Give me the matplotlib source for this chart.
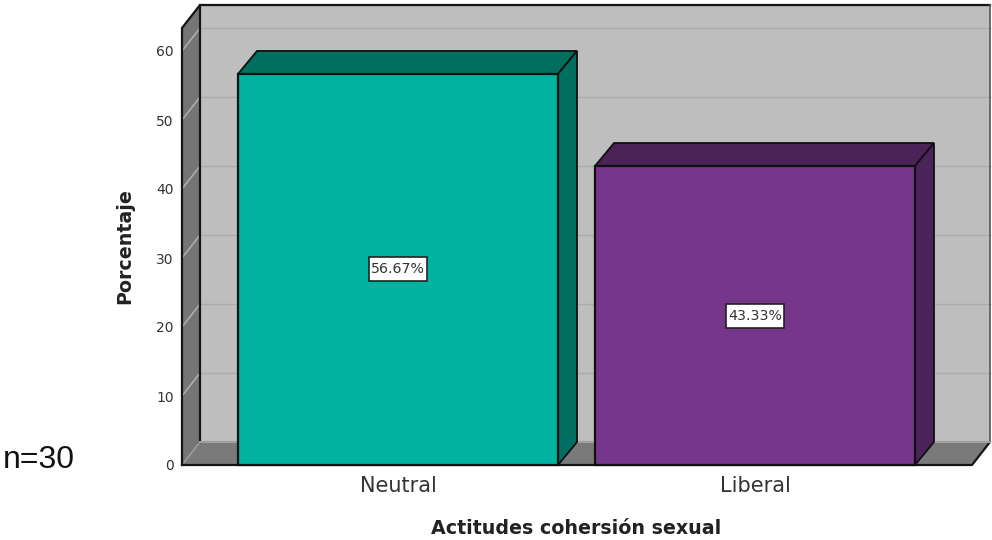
import matplotlib
matplotlib.use("Agg")
import matplotlib.pyplot as plt
from matplotlib.patches import Polygon, Rectangle

categories = ["Neutral", "Liberal"]
values = [56.67, 43.33]
labels = ["56.67%", "43.33%"]
yticks = [0, 10, 20, 30, 40, 50, 60]

face_colors = ["#00B2A0", "#76368C"]
top_colors = ["#006F60", "#4B2359"]
side_colors = ["#006F60", "#4B2359"]

W, H = 992, 540
fig = plt.figure(figsize=(W / 100, H / 100), dpi=100)
# front plane of the 3d box, in pixels
left, right, bottom, top = 182, 972, 465, 28
ax = fig.add_axes([left / W, 1 - bottom / H, (right - left) / W, (bottom - top) / H])

# scales: one category = 357 px, one percent = 6.9 px
px_x = 357.0
px_y = 6.9
center0 = 398
ax.set_xlim((left - center0) / px_x, (right - center0) / px_x)
ax.set_ylim(0, (bottom - top) / px_y)
x0, x1 = ax.get_xlim()
y0, y1 = ax.get_ylim()

# depth of the box, the bars sit slightly deeper
dx = 18 / px_x
dy = 23 / px_y
bar_dx = 19 / px_x
bar_w = 320 / px_x
box_w = 58 / px_x
box_h = 24 / px_y


def poly(pts, fc, ec="black", lw=1.5, z=1):
    ax.add_patch(Polygon(pts, closed=True, facecolor=fc, edgecolor=ec, linewidth=lw,
                         joinstyle="miter", clip_on=False, zorder=z))


# walls and floor
poly([(x0 + dx, y0 + dy), (x1 + dx, y0 + dy), (x1 + dx, y1 + dy), (x0 + dx, y1 + dy)], "#BEBEBE", ec="none", z=1)
poly([(x0, y0), (x0 + dx, y0 + dy), (x0 + dx, y1 + dy), (x0, y1)], "#757575", ec="none", z=1)
poly([(x0, y0), (x1, y0), (x1 + dx, y0 + dy), (x0 + dx, y0 + dy)], "#7A7A7A", ec="none", z=1)

# gridlines run along the back wall and down the left wall
for t in yticks[1:]:
    ax.plot([x0 + dx, x1 + dx], [t + dy, t + dy], color="#ABABAB", lw=1, zorder=2, clip_on=False)
    ax.plot([x0, x0 + dx], [t, t + dy], color="#B0B0B0", lw=1.1, zorder=2, clip_on=False)
ax.plot([x0 + dx, x1 + dx], [y1 + dy, y1 + dy], color="#A6A6A6", lw=1, zorder=2, clip_on=False)
ax.plot([x0, x0 + dx], [y0, y0 + dy], color="#A0A0A0", lw=1, zorder=2, clip_on=False)

# box outline
ax.plot([x0, x0, x0 + dx, x1 + dx], [y0, y1, y1 + dy, y1 + dy], color="#151515", lw=1.6, zorder=3, clip_on=False)
ax.plot([x0 + dx, x0 + dx], [y0 + dy, y1 + dy], color="#151515", lw=1.6, zorder=3, clip_on=False)
ax.plot([x1 + dx, x1 + dx], [y0 + dy, y1 + dy], color="#555555", lw=1.2, zorder=3, clip_on=False)
ax.plot([x0, x1, x1 + dx], [y0, y0, y0 + dy], color="#151515", lw=1.6, zorder=3, clip_on=False)
ax.plot([x0 + dx, x1 + dx], [y0 + dy, y0 + dy], color="#A0A0A0", lw=1.5, zorder=3, clip_on=False)

# bars
for i, v in enumerate(values):
    l = i - bar_w / 2
    r = i + bar_w / 2
    poly([(l, v), (r, v), (r + bar_dx, v + dy), (l + bar_dx, v + dy)], top_colors[i], ec="#101010", lw=1.3, z=4)
    poly([(r, 0), (r + bar_dx, dy), (r + bar_dx, v + dy), (r, v)], side_colors[i], ec="#101010", lw=1.3, z=4)
    poly([(l, 0), (r, 0), (r, v), (l, v)], face_colors[i], ec="#101010", lw=1.6, z=5)
    ax.add_patch(Rectangle((i - box_w / 2, v / 2 - box_h / 2), box_w, box_h, facecolor="white",
                           edgecolor="#222222", linewidth=1.2, zorder=6))
    ax.text(i, v / 2, labels[i], ha="center", va="center", fontsize=10.2, color="#333333", zorder=7)

for s in ax.spines.values():
    s.set_visible(False)
ax.patch.set_visible(False)

ax.set_xticks(range(len(categories)))
ax.set_xticklabels(categories, fontsize=15, color="#333333")
ax.set_yticks(yticks)
ax.tick_params(axis="y", length=0, pad=6, labelsize=10, labelcolor="#333333")
ax.tick_params(axis="x", length=0, pad=8)

fig.text(431 / W, 1 - 529 / H, "Actitudes cohersión sexual", ha="left", va="center", fontsize=13.7, fontweight="bold", color="#222222")
fig.text(125 / W, 1 - 246 / H, "Porcentaje", rotation=90, ha="center", va="center", fontsize=13.7, fontweight="bold", color="#222222")
fig.text(3 / W, 1 - 468 / H, "n=30", ha="left", va="baseline", fontsize=23, family="Liberation Sans", color="#111111")

fig.savefig("out.png", dpi=100)
